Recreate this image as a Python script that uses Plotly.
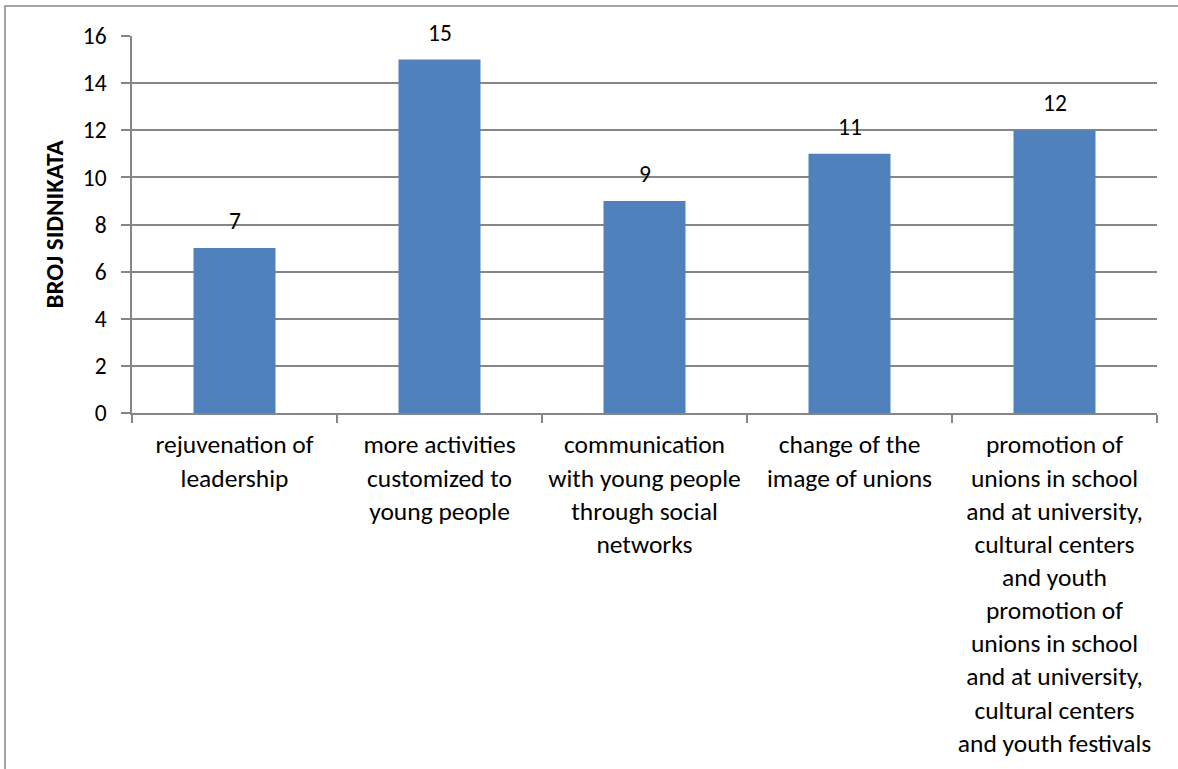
import plotly.graph_objects as go

categories = [
    "rejuvenation of<br>leadership",
    "more activities<br>customized to<br>young people",
    "communication<br>with young people<br>through social<br>networks",
    "change of the<br>image of unions",
    "promotion of<br>unions in school<br>and at university,<br>cultural centers<br>and youth<br>promotion of<br>unions in school<br>and at university,<br>cultural centers<br>and youth festivals",
]
values = [7, 15, 9, 11, 12]
y_ticks = [0, 2, 4, 6, 8, 10, 12, 14, 16]

FONT = "Carlito, Calibri, Lato, sans-serif"
BAR = "#4F81BD"
GRID = "#868686"

fig = go.Figure()
fig.add_trace(go.Bar(
    x=categories, y=values, marker_color=BAR, marker_line_width=0,
    width=0.4, hoverinfo="skip",
))

for c, v in zip(categories, values):
    fig.add_annotation(x=c, y=v, text=str(v), showarrow=False,
                       yanchor="bottom", yshift=11,
                       font=dict(family=FONT, size=23.5, color="black"))

W, H = 1178, 769
L, R, T, B = 132, 1157, 36, 413
def px(x):
    return (x - L) / (R - L)
def py(y):
    return (B - y) / (B - T)

fig.add_shape(type="rect", xref="paper", yref="paper",
              x0=px(5), x1=px(1185), y0=py(6), y1=py(780),
              line=dict(color="#888888", width=1.5), fillcolor="rgba(0,0,0,0)",
              layer="below")

fig.update_layout(
    width=W, height=H,
    margin=dict(l=L, r=W - R, t=T, b=H - B, pad=0, autoexpand=False),
    paper_bgcolor="white", plot_bgcolor="white",
    showlegend=False,
    font=dict(family=FONT, size=22, color="black"),
    bargap=0.6,
)
fig.update_xaxes(
    type="category", range=[-0.5, 4.5], automargin=False,
    showline=True, linecolor=GRID, linewidth=1.5,
    ticks="outside", tickson="boundaries", ticklen=8, tickcolor=GRID, tickwidth=1.5,
    tickfont=dict(family=FONT, size=25.5, color="black"),
    ticklabelstandoff=8,
    showgrid=False, zeroline=False, fixedrange=True,
)
fig.update_yaxes(
    range=[0, 16], tickvals=y_ticks, ticktext=[str(t) for t in y_ticks],
    automargin=False,
    showline=True, linecolor=GRID, linewidth=1.5,
    ticks="outside", ticklen=9, tickcolor=GRID, tickwidth=1.5,
    showgrid=True, gridcolor=GRID, gridwidth=1.5,
    zeroline=False,
    tickfont=dict(family=FONT, size=23.5, color="black"),
    ticklabelstandoff=10,
    title=dict(text="<b>BROJ SIDNIKATA</b>", font=dict(family=FONT, size=25, color="black"), standoff=12),
)

fig.write_html("out.html")
